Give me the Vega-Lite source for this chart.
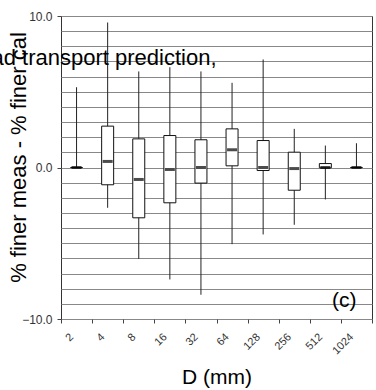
{
  "$schema": "https://vega.github.io/schema/vega-lite/v6.json",
  "width": 311,
  "height": 303,
  "autosize": {"type": "none"},
  "padding": {"left": 61, "top": 16, "right": 4, "bottom": 71},
  "background": "white",
  "config": {
    "view": {"stroke": "#333", "strokeWidth": 1},
    "font": "Liberation Sans"
  },
  "data": {
    "values": [
      {"D": 2, "min": 0, "q1": 0, "med": 0, "q3": 0, "max": 5.3},
      {"D": 4, "min": -2.66, "q1": -1.14, "med": 0.4, "q3": 2.73, "max": 9.57},
      {"D": 8, "min": -6.03, "q1": -3.32, "med": -0.79, "q3": 1.89, "max": 6.34},
      {"D": 16, "min": -7.39, "q1": -2.33, "med": -0.13, "q3": 2.11, "max": 6.62},
      {"D": 32, "min": -8.4, "q1": -1.03, "med": 0.0, "q3": 1.83, "max": 6.34},
      {"D": 64, "min": -5.06, "q1": 0.11, "med": 1.17, "q3": 2.55, "max": 5.59},
      {"D": 128, "min": -4.42, "q1": -0.2, "med": 0.0, "q3": 1.78, "max": 7.13},
      {"D": 256, "min": -3.78, "q1": -1.5, "med": -0.07, "q3": 1.01, "max": 2.55},
      {"D": 512, "min": -2.11, "q1": -0.02, "med": 0.0, "q3": 0.26, "max": 1.45},
      {"D": 1024, "min": 0, "q1": 0, "med": 0, "q3": 0, "max": 1.6}
    ]
  },
  "layer": [
    {
      "mark": {"type": "rule", "color": "#222", "strokeWidth": 1},
      "encoding": {
        "x": {
          "field": "D",
          "type": "ordinal",
          "scale": {"paddingInner": 0, "paddingOuter": 0},
          "axis": {
            "title": "D (mm)",
            "titleFontSize": 21,
            "titleFontWeight": "normal",
            "titleColor": "#000",
            "titleBaseline": "alphabetic",
            "titleY": 64,
            "domain": false,
            "grid": false,
            "tickBand": "extent",
            "tickSize": 4,
            "tickColor": "#444",
            "labelAngle": -45,
            "labelAlign": "right",
            "labelBaseline": "middle",
            "labelFontSize": 11,
            "labelColor": "#333",
            "labelPadding": 12,
            "labelOffset": -5
          }
        },
        "y": {
          "field": "min",
          "type": "quantitative",
          "scale": {"domain": [-10, 10], "nice": false, "zero": false},
          "axis": {
            "title": "% finer meas - % finer cal",
            "titleFontSize": 22,
            "titleFontWeight": "normal",
            "titleColor": "#000",
            "titleAngle": 270,
            "titleBaseline": "alphabetic",
            "titleAlign": "center",
            "titleX": -36,
            "titleY": 141,
            "values": [-10, -9, -8, -7, -6, -5, -4, -3, -2, -1, 0, 1, 2, 3, 4, 5, 6, 7, 8, 9, 10],
            "tickCount": 30,
            "labelExpr": "datum.value % 10 === 0 ? format(datum.value, '.1f') : ''",
            "labelFontSize": 12,
            "labelColor": "#333",
            "labelPadding": 5,
            "labelOverlap": false,
            "domain": false,
            "grid": true,
            "gridColor": "#888",
            "gridWidth": 1,
            "tickSize": 4,
            "tickColor": "#444",
            "tickOpacity": {"condition": {"test": "datum.value % 10 === 0", "value": 1}, "value": 0}
          }
        },
        "y2": {"field": "max"}
      }
    },
    {
      "mark": {"type": "bar", "fill": "white", "stroke": "#111", "strokeWidth": 1, "size": 12},
      "encoding": {
        "x": {"field": "D", "type": "ordinal"},
        "y": {"field": "q1", "type": "quantitative"},
        "y2": {"field": "q3"}
      }
    },
    {
      "mark": {"type": "tick", "color": "#000", "size": 10, "thickness": 3},
      "encoding": {
        "x": {"field": "D", "type": "ordinal"},
        "y": {"field": "med", "type": "quantitative"}
      }
    },
    {
      "data": {"values": [{"label": "(c)"}]},
      "mark": {"type": "text", "fontSize": 21, "align": "right", "baseline": "alphabetic", "color": "#000"},
      "encoding": {
        "text": {"field": "label"},
        "x": {"datum": 1024, "type": "ordinal"},
        "y": {"datum": -9.2, "type": "quantitative"}
      }
    },
    {
      "data": {"values": [{"label": "Bed load transport prediction,"}]},
      "mark": {"type": "text", "fontSize": 22, "align": "right", "baseline": "alphabetic", "color": "#000"},
      "encoding": {
        "text": {"field": "label"},
        "x": {"datum": 64, "type": "ordinal", "bandPosition": 0},
        "y": {"datum": 6.75, "type": "quantitative"}
      }
    }
  ]
}
